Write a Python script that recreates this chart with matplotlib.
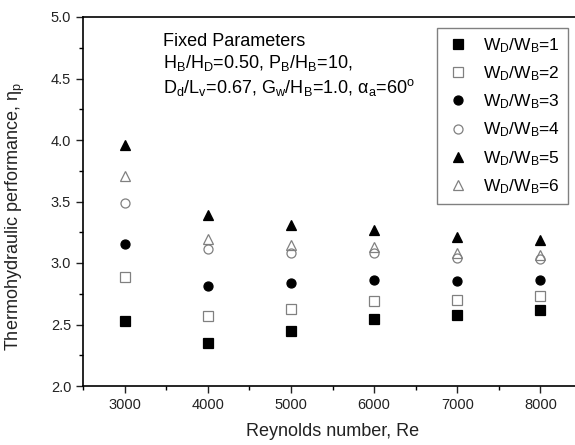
import matplotlib.pyplot as plt
from matplotlib.ticker import MultipleLocator

plt.rcParams['font.family'] = ['Liberation Sans', 'DejaVu Sans']
plt.rcParams['mathtext.fontset'] = 'custom'
plt.rcParams['mathtext.rm'] = 'Liberation Sans'
plt.rcParams['mathtext.it'] = 'Liberation Sans'

# Reynolds numbers
re = [3000, 4000, 5000, 6000, 7000, 8000]

# thermohydraulic performance for each W_D/W_B ratio
eta_wd1 = [2.53, 2.35, 2.45, 2.545, 2.58, 2.62]
eta_wd2 = [2.89, 2.57, 2.63, 2.69, 2.70, 2.73]
eta_wd3 = [3.155, 2.81, 2.835, 2.86, 2.85, 2.86]
eta_wd4 = [3.485, 3.11, 3.08, 3.08, 3.04, 3.03]
eta_wd5 = [3.96, 3.39, 3.31, 3.27, 3.21, 3.19]
eta_wd6 = [3.71, 3.195, 3.146, 3.13, 3.08, 3.065]

ratios = [1, 2, 3, 4, 5, 6]

def main():
    fig = plt.figure(figsize=(5.75, 4.45), dpi=100)
    ax = fig.add_axes([83 / 575, 59 / 445, 499 / 575, 369 / 445])

    grey = '#808080'
    styles = [
        ('s', 'black', 'black'),
        ('s', 'none', grey),
        ('o', 'black', 'black'),
        ('o', 'none', grey),
        ('^', 'black', 'black'),
        ('^', 'none', grey),
    ]
    series = [eta_wd1, eta_wd2, eta_wd3, eta_wd4, eta_wd5, eta_wd6]

    for vals, r, (m, fc, ec) in zip(series, ratios, styles):
        ax.plot(re, vals, linestyle='none', marker=m, markersize=6.5,
                markerfacecolor=fc, markeredgecolor=ec, markeredgewidth=0.9,
                label=r'W$_\mathregular{D}$/W$_\mathregular{B}$=%d' % r)

    ax.set_xlim(2500, 8500)
    ax.set_ylim(2.0, 5.0)
    ax.xaxis.set_major_locator(MultipleLocator(1000))
    ax.xaxis.set_minor_locator(MultipleLocator(500))
    ax.yaxis.set_major_locator(MultipleLocator(0.5))
    ax.yaxis.set_minor_locator(MultipleLocator(0.25))
    ax.yaxis.set_major_formatter(plt.FormatStrFormatter('%.1f'))
    ax.tick_params(which='major', direction='out', length=5, width=1, labelsize=10.5, colors='#222222')
    ax.tick_params(which='minor', direction='out', length=3, width=1)
    for s in ax.spines.values():
        s.set_linewidth(1.2)

    ax.set_xlabel('Reynolds number, Re', fontsize=13, color='#222222', labelpad=8)
    ax.set_ylabel(r'Thermohydraulic performance, $\mathregular{\eta_p}$', fontsize=13,
                  color='#222222')
    ax.yaxis.set_label_coords(-0.112, 0.46)

    ax.text(0.16, 0.921, 'Fixed Parameters', transform=ax.transAxes, fontsize=13, va='baseline')
    ax.text(0.16, 0.862, r'H$_\mathregular{B}$/H$_\mathregular{D}$=0.50, P$_\mathregular{B}$/H$_\mathregular{B}$=10,',
            transform=ax.transAxes, fontsize=13, va='baseline')
    ax.text(0.16, 0.794, r'D$_\mathregular{d}$/L$_\mathregular{v}$=0.67, G$_\mathregular{w}$/H$_\mathregular{B}$=1.0, '
            r'$\mathregular{\alpha_a}$=60$^\mathregular{o}$',
            transform=ax.transAxes, fontsize=13, va='baseline')

    leg = ax.legend(loc='upper right', bbox_to_anchor=(0.972, 0.97), fontsize=12.5,
                    fancybox=False, framealpha=1, edgecolor=grey, borderpad=0.45,
                    labelspacing=0.55, handletextpad=0.7, handlelength=1.5,
                    borderaxespad=0)
    leg.get_frame().set_linewidth(1)

    fig.savefig('out.png', dpi=100)

if __name__ == "__main__":
    main()
